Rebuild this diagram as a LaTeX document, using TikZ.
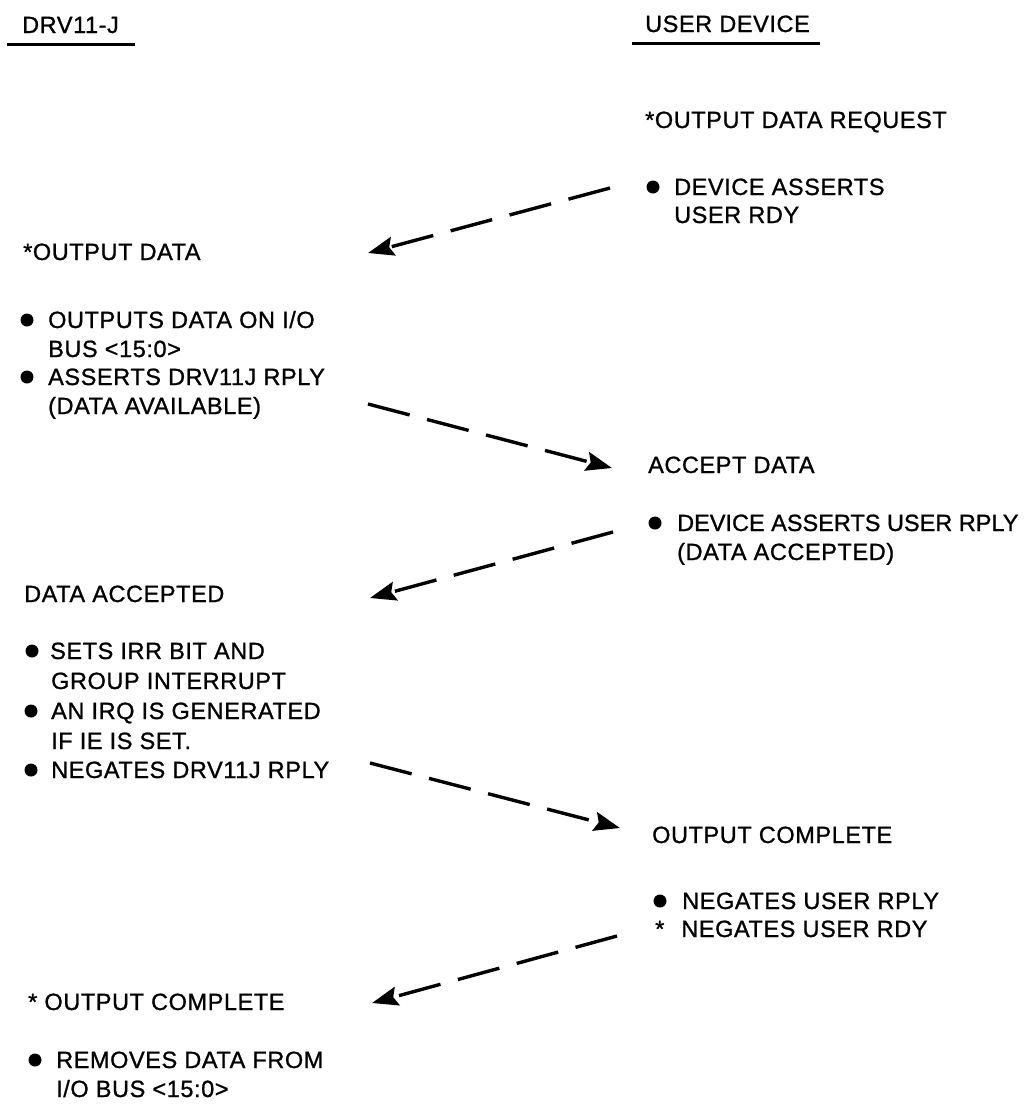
\documentclass[tikz,border=0pt]{standalone}
\usepackage{fontspec}
\setmainfont{Liberation Sans}[LetterSpace=2.5,FakeBold=1]
\newfontfamily\tightfont{Liberation Sans}[LetterSpace=0,FakeBold=1]
\usetikzlibrary{arrows.meta}
\begin{document}
\begin{tikzpicture}[x=1pt,y=-1pt,
  txt/.style={anchor=base west, inner sep=0pt, font=\fontsize{23.5}{28}\selectfont},
  flow/.style={line width=3.4pt, dash pattern=on 43pt off 18pt,
    -{Stealth[length=26pt,width=19pt,inset=4pt]}},
  rulebar/.style={line width=3pt},
  dotmark/.style={circle, fill=black, inner sep=0pt, minimum size=13pt}]
\useasboundingbox (0,0) rectangle (1024,1104);

% headers
\node[txt] (h1) at (22,33) {DRV11-J};
\node[txt] (h2) at (645,32) {USER DEVICE};
\coordinate (u1a) at (7,44);   \coordinate (u1b) at (135,44);
\coordinate (u2a) at (632,43); \coordinate (u2b) at (820,43);
\draw[rulebar] (u1a) -- (u1b);
\draw[rulebar] (u2a) -- (u2b);

% user device: output data request
\node[txt] (r1) at (645,128) {*OUTPUT DATA REQUEST};
\node[dotmark] (d1) at (653,187) {};
\node[txt] (r1a) at (674,195) {DEVICE ASSERTS};
\node[txt] (r1b) at (674,223) {USER RDY};

% DRV11-J: output data
\node[txt] (l1) at (23,260) {*OUTPUT DATA};
\node[dotmark] (d2) at (27,320) {};
\node[txt] (l1a) at (48,328) {OUTPUTS DATA ON I/O};
\node[txt] (l1b) at (48,357) {BUS <15:0>};
\node[dotmark] (d3) at (27,377) {};
\node[txt] (l1c) at (48,385) {ASSERTS DRV11J RPLY};
\node[txt] (l1d) at (48,414) {(DATA AVAILABLE)};

% user device: accept data
\node[txt] (r2) at (648,473) {ACCEPT DATA};
\node[dotmark] (d4) at (655,523) {};
\node[txt] (r2a) at (677,531) {\tightfont DEVICE ASSERTS USER RPLY};
\node[txt] (r2b) at (677,560) {(DATA ACCEPTED)};

% DRV11-J: data accepted
\node[txt] (l2) at (24,602) {DATA ACCEPTED};
\node[dotmark] (d5) at (32,651) {};
\node[txt] (l2a) at (50,659) {SETS IRR BIT AND};
\node[txt] (l2b) at (51,689) {GROUP INTERRUPT};
\node[dotmark] (d6) at (31,711) {};
\node[txt] (l2c) at (51,719) {AN IRQ IS GENERATED};
\node[txt] (l2d) at (51,749) {IF IE IS SET.};
\node[dotmark] (d7) at (31,770) {};
\node[txt] (l2e) at (51,778) {NEGATES DRV11J RPLY};

% user device: output complete
\node[txt] (r3) at (652,843) {OUTPUT COMPLETE};
\node[dotmark] (d8) at (660,901) {};
\node[txt] (r3a) at (682,909) {NEGATES USER RPLY};
\node[txt] (r3b) at (655,937) {*\hspace{17pt}NEGATES USER RDY};

% DRV11-J: output complete
\node[txt] (l3) at (28,1010) {* OUTPUT COMPLETE};
\node[dotmark] (d9) at (35,1060) {};
\node[txt] (l3a) at (56,1068) {REMOVES DATA FROM};
\node[txt] (l3b) at (56,1097) {I/O BUS <15:0>};

% connectors
\coordinate (a1s) at (610,188);  \coordinate (a1e) at (368,253);
\coordinate (a2s) at (368,404);  \coordinate (a2e) at (612,468);
\coordinate (a3s) at (613,532);  \coordinate (a3e) at (370,598);
\coordinate (a4s) at (370,763);  \coordinate (a4e) at (620,828);
\coordinate (a5s) at (617,936);  \coordinate (a5e) at (372,1003);
\draw[flow] (a1s) -- (a1e);
\draw[flow] (a2s) -- (a2e);
\draw[flow] (a3s) -- (a3e);
\draw[flow] (a4s) -- (a4e);
\draw[flow] (a5s) -- (a5e);
\end{tikzpicture}
\end{document}
